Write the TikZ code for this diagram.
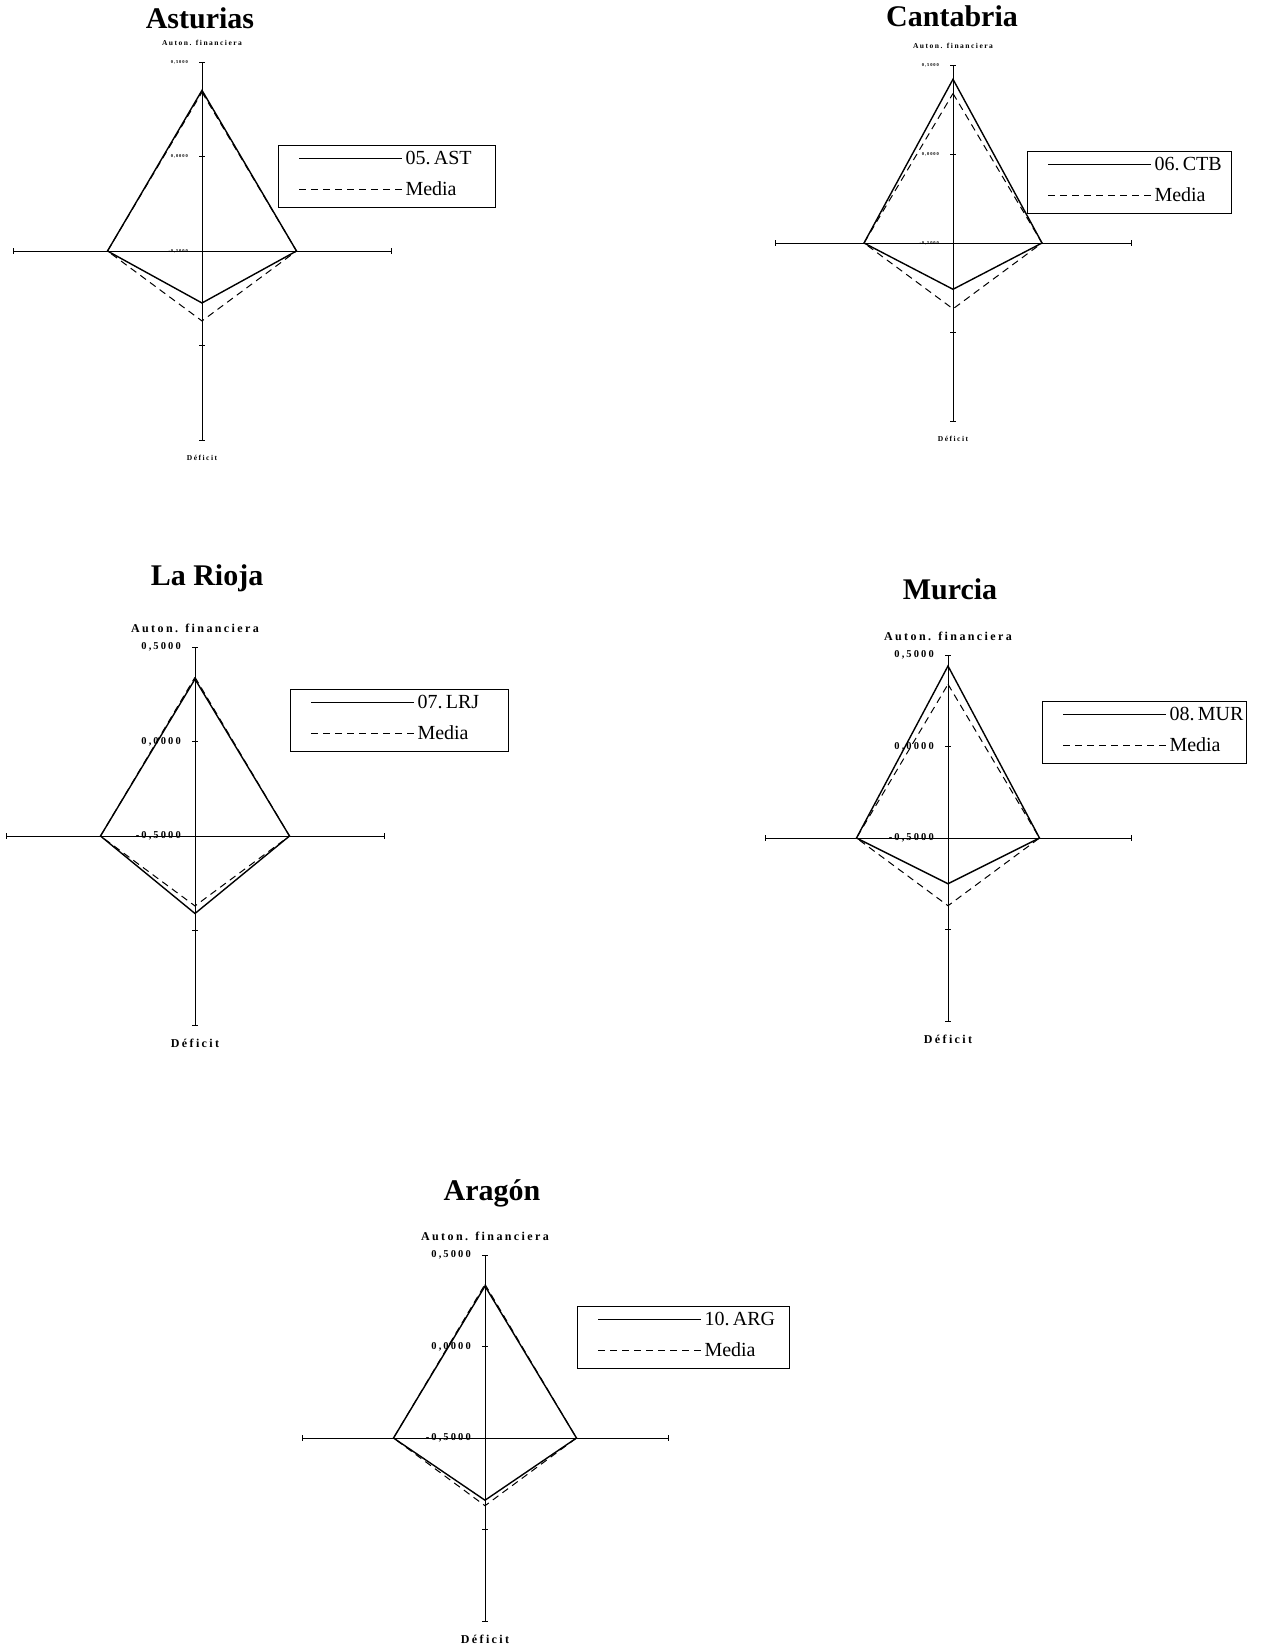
\documentclass[tikz,border=0pt]{standalone}
\usepackage{fontspec}
\setmainfont{Liberation Serif}
\newfontfamily\labfont[LetterSpace=20]{Liberation Serif}

\tikzset{
  axisline/.style={line width=0.9pt},
  serie/.style={line width=1.4pt, line join=miter},
  media/.style={line width=1pt, dash pattern=on 7pt off 5pt},
  legbox/.style={draw, line width=1pt, inner sep=0pt, anchor=north west},
  charttitle/.style={font=\bfseries\fontsize{30}{36}\selectfont, anchor=base},
  legtext/.style={font=\fontsize{20}{24}\selectfont, anchor=west, inner sep=3pt},
}

\begin{document}
\begin{tikzpicture}[x=1pt, y=-1pt]

\fill[white] (0,0) rectangle (1261,1647);
\useasboundingbox (0,0) rectangle (1261,1647);

% one radar chart per region: name/centre/radius/title/legend/values/font sizes
\foreach \n/\cx/\cy/\R/\ttl/\tx/\ty/\cod/\lx/\ly/\lw/\t/\b/\fl/\ft in {
  ast/202/251/189/Asturias/-2/34/05.\,AST/76/-106/217/0.85/0.275/7.5/4.5,
  ctb/953/243/178/Cantabria/-1/39/06.\,CTB/74/-92/204/0.92/0.26/7.5/4.5,
  lrj/195/836/189/La Rioja/12/62/07.\,LRJ/95/-147/218/0.83/0.41/12/10.5,
  mur/948/838/183/Murcia/2/56/08.\,MUR/94/-137/204/0.94/0.25/12/10.5,
  arg/485/1438/183/Aragón/7/55/10.\,ARG/92/-132/212/0.83/0.34/12/10.5} {
\begin{scope}[shift={(\cx,\cy)}]
  \node[charttitle] (title\n) at (\tx,{-\R-\ty}) {\ttl};
  \node[font={\labfont\bfseries\fontsize{\fl}{\fl}\selectfont}] (aut\n) at (0,{-\R-19}) {Auton. financiera};
  \node[font={\labfont\bfseries\fontsize{\fl}{\fl}\selectfont}] (def\n) at (0,{\R+18}) {Déficit};

  \draw[axisline] ({-\R},0) -- (\R,0);
  \draw[axisline] (0,{-\R}) -- (0,\R);
  \foreach \a in {-1,-0.5,0.5,1} {\draw[axisline] (-3,{\a*\R}) -- (3,{\a*\R});}
  \foreach \a in {-1,1} {\draw[axisline] ({\a*\R},-3) -- ({\a*\R},3);}
  \foreach \v/\a/\k in {{0,5000}/-1/a, {0,0000}/-0.5/b, {-0,5000}/0/c}
    {\node[font={\labfont\bfseries\fontsize{\ft}{\ft}\selectfont}, anchor=east, inner sep=0pt]
      (tick\k\n) at (-14,{\a*\R}) {\v};}

  \draw[media] (0,{-0.84*\R}) -- ({0.5*\R},0) -- (0,{0.37*\R}) -- ({-0.5*\R},0) -- cycle;
  \draw[serie] (0,{-\t*\R}) -- ({0.5*\R},0) -- (0,{\b*\R}) -- ({-0.5*\R},0) -- cycle;

  \node[legbox, minimum width=\lw pt, minimum height=62pt] (leg\n) at (\lx,\ly) {};
  \draw[serie, line width=1pt] ([shift={(21,13)}]leg\n.north west) -- ++(103,0)
    node[legtext] (code\n) {\cod};
  \draw[media] ([shift={(21,44)}]leg\n.north west) -- ++(103,0)
    node[legtext] (med\n) {Media};
\end{scope}
}

\end{tikzpicture}
\end{document}
